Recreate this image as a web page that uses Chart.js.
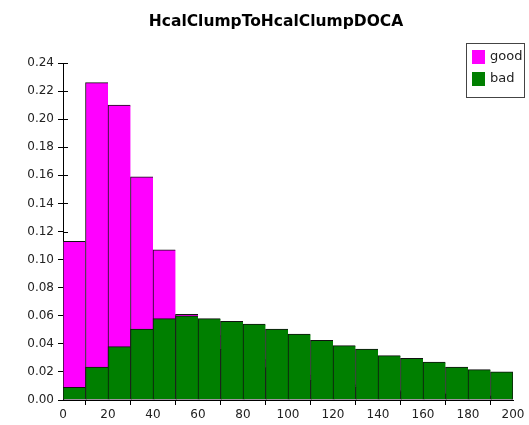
<!DOCTYPE html>
<html>
<head>
<meta charset="utf-8">
<script src="https://cdn.jsdelivr.net/npm/chart.js@4"></script>
<style>
  html, body { margin: 0; padding: 0; background: #fff; }
  #wrap { position: relative; width: 529px; height: 425px; }
</style>
</head>
<body>
<div id="wrap"><canvas id="c" width="529" height="425"></canvas></div>
<script>
// histogram bins (lower edge), width 10
const binStarts = [0, 10, 20, 30, 40, 50, 60, 70, 80, 90, 100, 110, 120, 130, 140, 150, 160, 170, 180, 190];
const binWidth = 10;
const goodValues = [0.113, 0.226, 0.210, 0.159, 0.107, 0.061, 0.046, 0.036, 0.029, 0.023, 0.018, 0.014, 0.011, 0.009, 0.007, 0.006, 0.005, 0.004, 0.003, 0.003];
const badValues = [0.009, 0.0235, 0.038, 0.0505, 0.058, 0.060, 0.058, 0.056, 0.054, 0.0505, 0.047, 0.0425, 0.0387, 0.0363, 0.0316, 0.0297, 0.027, 0.0235, 0.0216, 0.020];
const xTicks = [0, 20, 40, 60, 80, 100, 120, 140, 160, 180, 200];
const title = 'HcalClumpToHcalClumpDOCA';

const FONT = "'DejaVu Sans', sans-serif";
const EDGE = '#111';

function toPoints(vals) {
    return vals.map((v, i) => ({ x: binStarts[i] + binWidth / 2, y: v }));
}

const lastIdx = binStarts.length - 1;
const barBorder = ctx => ctx.dataIndex === lastIdx
    ? { left: 1, top: 1, right: 1, bottom: 0 }
    : { left: 1, top: 1, right: 0, bottom: 0 };

// inner tick marks, title and boxed legend drawn in the canvas
const decorations = {
    id: 'decorations',
    beforeDatasetsDraw(chart) {
        const { ctx, chartArea, scales } = chart;
        ctx.save();
        ctx.strokeStyle = '#000';
        ctx.lineWidth = 1;
        ctx.beginPath();
        scales.y.ticks.forEach(t => {
            const y = Math.round(scales.y.getPixelForValue(t.value)) + 0.5;
            ctx.moveTo(chartArea.left, y);
            ctx.lineTo(chartArea.left + 5, y);
        });
        ctx.stroke();
        ctx.restore();
    },
    afterDraw(chart) {
        const { ctx } = chart;
        ctx.save();
        ctx.fillStyle = '#000';
        ctx.font = 'bold 15.5px ' + FONT;
        ctx.textAlign = 'center';
        ctx.textBaseline = 'middle';
        ctx.fillText(title, 276, 22);

        // legend
        const bx = 466.5, by = 43.5, bw = 58, bh = 54;
        ctx.fillStyle = '#fff';
        ctx.fillRect(bx, by, bw, bh);
        ctx.strokeStyle = '#444';
        ctx.lineWidth = 1;
        ctx.strokeRect(bx, by, bw, bh);
        ctx.font = '13px ' + FONT;
        ctx.textAlign = 'left';
        chart.data.datasets.forEach((ds, i) => {
            const y = 50 + i * 22;
            ctx.fillStyle = ds.backgroundColor;
            ctx.fillRect(472, y, 13, 14);
            ctx.fillStyle = '#222';
            ctx.fillText(ds.label, 490, y + 7);
        });
        ctx.restore();
    }
};

new Chart(document.getElementById('c'), {
    type: 'bar',
    data: {
        datasets: [
            {
                label: 'good',
                data: toPoints(goodValues),
                backgroundColor: '#ff00ff',
                borderColor: EDGE,
                borderWidth: barBorder,
                borderSkipped: false,
                order: 1
            },
            {
                label: 'bad',
                data: toPoints(badValues),
                backgroundColor: '#007f00',
                borderColor: EDGE,
                borderWidth: barBorder,
                borderSkipped: false,
                order: 0
            }
        ]
    },
    options: {
        responsive: false,
        animation: false,
        grouped: false,
        barPercentage: 1,
        categoryPercentage: 1,
        layout: { padding: { top: 63, right: 16, bottom: 0, left: 0 } },
        plugins: {
            legend: { display: false },
            title: { display: false },
            tooltip: { enabled: false }
        },
        scales: {
            x: {
                type: 'linear',
                min: 0,
                max: 200,
                offset: false,
                afterBuildTicks: s => { s.ticks = xTicks.map(v => ({ value: v })); },
                afterFit: s => { s.height = 25; },
                border: { color: '#000', width: 1 },
                grid: { drawOnChartArea: false, drawTicks: true, tickLength: 5, tickColor: '#000' },
                ticks: { color: '#222', font: { family: FONT, size: 12 }, padding: 3, maxRotation: 0 }
            },
            y: {
                min: 0,
                max: 0.24,
                afterFit: s => { s.width = 63; },
                border: { color: '#000', width: 1 },
                grid: { drawOnChartArea: false, drawTicks: true, tickLength: 5, tickColor: '#000' },
                ticks: {
                    stepSize: 0.02,
                    color: '#222',
                    font: { family: FONT, size: 12 },
                    padding: 4,
                    callback: v => v.toFixed(2)
                }
            }
        }
    },
    plugins: [decorations]
});
</script>
</body>
</html>
